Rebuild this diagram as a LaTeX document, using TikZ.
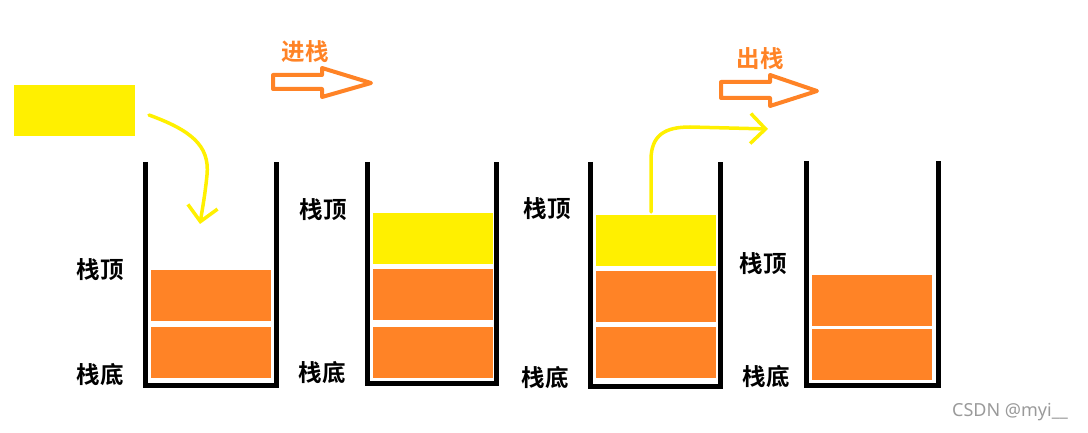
\documentclass[tikz,border=0pt]{standalone}
\usepackage{fontspec}
\newfontfamily\cjk{Noto Sans CJK SC}[BoldFont={* Bold}]
\usetikzlibrary{arrows.meta}
\definecolor{ylw}{HTML}{FFF000}
\definecolor{org}{HTML}{FF8326}
\definecolor{wm}{HTML}{9A9A9A}
\begin{document}
\begin{tikzpicture}[x=1pt,y=-1pt,
  wall/.style={line width=5pt,line join=miter},
  blk/.style={inner sep=0pt,outer sep=0pt,minimum width=120pt,minimum height=51pt,anchor=north west},
  oblk/.style={blk,fill=org},
  yblk/.style={blk,fill=ylw},
  lbl/.style={font=\cjk\bfseries\fontsize{23.5}{23.5}\selectfont,inner sep=0pt},
  olbl/.style={lbl,text=org},
  hollow/.style={draw=org,line width=4pt,line join=round},
  ycurve/.style={draw=ylw,line width=3.5pt,line cap=round,-{Straight Barb[length=15pt,width=30pt,line width=3.5pt]}}]
\useasboundingbox (0,0) rectangle (1088,433);
% stacks
\draw[wall] (145,162) -- (145,385) -- (276,385) -- (276,162);
\draw[wall] (367,162) -- (367,383) -- (496,383) -- (496,162);
\draw[wall] (590,162) -- (590,386) -- (720,386) -- (720,162);
\draw[wall] (806,161) -- (806,385) -- (938,385) -- (938,161);
% blocks
\node[yblk,minimum width=121pt,minimum height=51pt] (src) at (14,85) {};
\node[oblk] (a1) at (151,270) {};
\node[oblk] (a2) at (151,327) {};
\node[yblk] (b0) at (373,213) {};
\node[oblk] (b1) at (373,269) {};
\node[oblk] (b2) at (373,327) {};
\node[yblk] (c0) at (596,215) {};
\node[oblk] (c1) at (596,271) {};
\node[oblk] (c2) at (596,327) {};
\node[oblk] (d1) at (812,275) {};
\node[oblk] (d2) at (812,329) {};
% labels
\node[lbl] (t1) at (100,270) {栈顶};
\node[lbl] (s1) at (100,375) {栈底};
\node[lbl] (t2) at (323,210) {栈顶};
\node[lbl] (s2) at (322,373) {栈底};
\node[lbl] (t3) at (547,209) {栈顶};
\node[lbl] (s3) at (545,378) {栈底};
\node[lbl] (t4) at (763,264) {栈顶};
\node[lbl] (s4) at (766,377) {栈底};
\node[olbl] (push) at (305,52) {进栈};
\node[olbl] (pop) at (760,59) {出栈};
% hollow arrows
\draw[hollow] (273,75) -- (322,75) -- (322,68) -- (371,83) -- (322,97) -- (322,89) -- (273,89) -- cycle;
\draw[hollow] (721,82) -- (770,82) -- (770,75) -- (817,91) -- (770,106) -- (770,98) -- (721,98) -- cycle;
% curved arrows
\coordinate (p1) at (149,115);
\coordinate (p2) at (200,224);
\draw[ycurve] (p1) .. controls (190,130) and (210,145) .. (207,175) .. controls (205,195) and (203,205) .. (p2);
\coordinate (q1) at (651,212);
\coordinate (q2) at (768,129);
\draw[ycurve] (q1) -- (651,160) .. controls (651,135) and (665,127) .. (690,127) -- (q2);
% watermark
\node[font=\fontspec{Noto Sans}\fontsize{18}{18}\selectfont,text=wm,inner sep=0pt] (wmk) at (1010,412) {CSDN @myi\_\_};
\end{tikzpicture}
\end{document}
